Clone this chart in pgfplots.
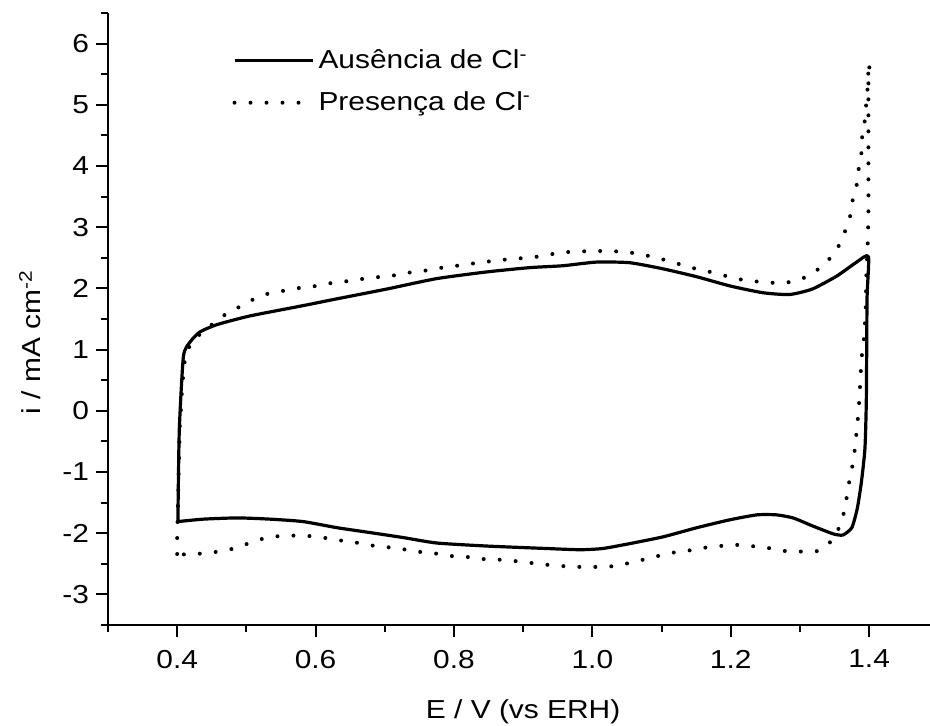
\documentclass[border=0pt]{standalone}
\usepackage{pgfplots}
\pgfplotsset{compat=1.18}
\usepackage{fontspec}
\setmainfont{Liberation Sans}[FakeStretch=1.15]
\begin{document}
\begin{tikzpicture}[font=\fontsize{13}{15.6}\selectfont]
\useasboundingbox (-54pt,-50pt) rectangle (411pt,312.5pt);
\begin{axis}[
  scale only axis, width=411pt, height=306pt,
  xmin=0.3, xmax=1.488, ymin=-3.5, ymax=6.5,
  axis x line*=bottom, axis y line*=left,
  axis line style={line width=1.35pt,-},
  xtick={0.4,0.6,0.8,1.0,1.2,1.4},
  xticklabels={0.4,0.6,0.8,1.0,1.2,1.4},
  minor xtick={0.3,0.5,0.7,0.9,1.1,1.3},
  ytick={-3,-2,-1,0,1,2,3,4,5,6},
  yticklabels={-3,-2,-1,0,1,2,3,4,5,6},
  minor ytick={-3.5,-2.5,-1.5,-0.5,0.5,1.5,2.5,3.5,4.5,5.5,6.5},
  tick align=outside,
  major tick length=6pt, minor tick length=3.5pt,
  every tick/.style={black, line width=1pt},
  xticklabel style={yshift=-3pt},
  xlabel={E / V (vs ERH)},
  ylabel={i / mA cm\textsuperscript{-2}},
  xlabel style={at={(axis description cs:0.505,-0.141)}, anchor=center},
  ylabel style={at={(axis description cs:-0.0949,0.462)}, anchor=center},
  legend style={draw=none, fill=none, at={(axis description cs:0.151,0.947)}, anchor=north west, inner sep=0pt, row sep=6pt, font=\fontsize{13}{15.6}\selectfont},
  legend cell align=left,
  legend image code/.code={\draw[#1] (0pt,0pt) -- (39pt,0pt);},
]
\addplot[black, line width=1.6pt, line join=round, smooth, tension=0.35] coordinates {
(0.401,-1.81) (0.403,-0.33) (0.409,0.89) (0.419,1.13) (0.433,1.29) (0.458,1.41) (0.505,1.55) (0.578,1.71) (0.631,1.83) (0.703,1.99) (0.775,2.16) (0.848,2.27) (0.910,2.34) (0.957,2.37) (1.006,2.43) (1.054,2.42) (1.102,2.32) (1.151,2.19) (1.199,2.04) (1.246,1.93) (1.285,1.90) (1.318,1.99) (1.353,2.20) (1.382,2.43) (1.399,2.52) (1.397,1.83) (1.396,0.20) (1.394,-0.61) (1.389,-1.15) (1.383,-1.59) (1.375,-1.91) (1.362,-2.03) (1.348,-2.01) (1.318,-1.88) (1.290,-1.75) (1.266,-1.70) (1.238,-1.70) (1.199,-1.78) (1.151,-1.91) (1.102,-2.06) (1.054,-2.17) (1.015,-2.25) (0.982,-2.27) (0.934,-2.25) (0.848,-2.21) (0.775,-2.16) (0.726,-2.07) (0.679,-1.99) (0.631,-1.91) (0.582,-1.81) (0.534,-1.77) (0.487,-1.75) (0.438,-1.77) (0.401,-1.81)
};
\addlegendentry{Ausência de Cl\textsuperscript{-}}
\addplot[black, line width=2pt, line cap=round, dash pattern=on 0pt off 8pt, smooth, tension=0.35] coordinates {
(0.400,-2.34) (0.400,-2.06) (0.402,-1.10) (0.404,-0.17) (0.406,0.09) (0.407,0.37) (0.409,0.61) (0.412,0.89) (0.423,1.15) (0.465,1.54) (0.487,1.68) (0.508,1.81) (0.530,1.91) (0.553,1.96) (0.578,2.01) (0.601,2.04) (0.624,2.09) (0.647,2.12) (0.671,2.16) (0.695,2.19) (0.718,2.22) (0.741,2.27) (0.765,2.30) (0.788,2.35) (0.812,2.38) (0.835,2.42) (0.858,2.45) (0.882,2.48) (0.905,2.50) (0.929,2.53) (0.950,2.58) (0.973,2.60) (0.998,2.61) (1.021,2.61) (1.045,2.60) (1.069,2.56) (1.093,2.50) (1.116,2.43) (1.139,2.35) (1.170,2.27) (1.194,2.20) (1.217,2.14) (1.240,2.11) (1.265,2.09) (1.290,2.11) (1.311,2.20) (1.333,2.37) (1.352,2.61) (1.363,2.87) (1.372,3.15) (1.376,3.43) (1.382,3.69) (1.385,3.96) (1.389,4.22) (1.390,4.48) (1.394,4.76) (1.396,5.04) (1.398,5.30) (1.399,5.56) (1.401,5.69) (1.399,5.41) (1.399,4.60) (1.399,3.78) (1.399,3.26) (1.398,2.73) (1.396,2.21) (1.395,1.64) (1.392,1.10) (1.389,0.85) (1.385,0.04) (1.378,-0.76) (1.373,-1.05) (1.369,-1.31) (1.365,-1.59) (1.359,-1.85) (1.346,-2.12) (1.326,-2.29) (1.303,-2.30) (1.278,-2.29) (1.253,-2.24) (1.230,-2.21) (1.207,-2.19) (1.184,-2.21) (1.160,-2.24) (1.136,-2.29) (1.115,-2.32) (1.092,-2.38) (1.067,-2.45) (1.044,-2.51) (1.021,-2.55) (0.996,-2.55) (0.973,-2.55) (0.950,-2.53) (0.929,-2.51) (0.907,-2.48) (0.884,-2.45) (0.862,-2.43) (0.839,-2.42) (0.814,-2.38) (0.791,-2.37) (0.768,-2.32) (0.745,-2.30) (0.721,-2.25) (0.697,-2.22) (0.674,-2.19) (0.653,-2.14) (0.630,-2.11) (0.605,-2.06) (0.582,-2.04) (0.559,-2.04) (0.536,-2.06) (0.514,-2.12) (0.490,-2.22) (0.468,-2.29) (0.443,-2.32) (0.420,-2.35) (0.400,-2.34)
};
\addlegendentry{Presença de Cl\textsuperscript{-}}
\end{axis}
\end{tikzpicture}
\end{document}
